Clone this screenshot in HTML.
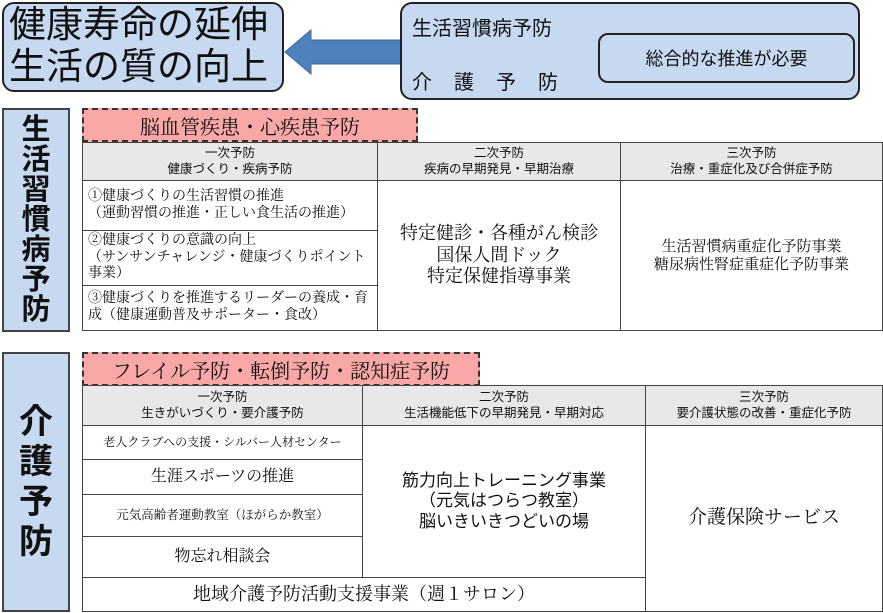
<!DOCTYPE html>
<html><head><meta charset="utf-8"><style>
body{margin:0;width:883px;height:613px;background:#fff;position:relative;overflow:hidden;font-family:"Liberation Sans","Noto Sans CJK JP",sans-serif;color:#111}
div{box-sizing:border-box}
.a{position:absolute}
.c{position:absolute;display:flex;align-items:center;justify-content:center;text-align:center;border:1px solid #444;background:#fff;line-height:1.2}
.s{font-family:"Liberation Serif","Noto Serif CJK JP","Noto Serif CJK SC",serif}
.h{background:#e8e8e8;font-size:12.5px;line-height:1.25}
.l{justify-content:flex-start;text-align:left;padding-left:5px}
.rb{position:absolute;background:#c6d9f1;border:2px solid #222;border-radius:12px}
.side{position:absolute;background:#c6d9f1;border:2px solid #444;display:flex;align-items:center;justify-content:center;font-weight:bold;text-align:center}
.red{position:absolute;background:#f9a7a7;border:2px dashed #333;display:flex;align-items:center;justify-content:center}
</style></head><body>
<div class="rb" style="left:2px;top:2px;width:282px;height:90px;"></div>
<div class="a" style="left:9px;top:4px;font-size:37px;line-height:42px;white-space:nowrap;">健康寿命の延伸<br>生活の質の向上</div>
<svg class="a" style="left:283px;top:28px" width="122" height="48"><polygon points="2,24 28,2 28,12 120,12 120,36 28,36 28,46" fill="#4f81bd" stroke="#3a6aa0" stroke-width="1"/></svg>
<div class="rb" style="left:400px;top:2px;width:460px;height:98px;"></div>
<div class="a" style="left:412px;top:12px;font-size:20px;">生活習慣病予防</div>
<div class="a" style="left:412px;top:66px;font-size:20px;letter-spacing:22px;">介護予防</div>
<div class="a" style="left:598px;top:33px;width:257px;height:50px;border:2px solid #222;border-radius:10px;display:flex;align-items:center;justify-content:center;font-size:18px;">総合的な推進が必要</div>

<div class="side" style="left:2px;top:108px;width:68px;height:224px;font-size:29px;line-height:30px;">生<br>活<br>習<br>慣<br>病<br>予<br>防</div>
<div class="red s" style="left:82px;top:108px;width:336px;height:34px;font-size:20px;">脳血管疾患・心疾患予防</div>
<div class="c h" style="left:82px;top:142px;width:296px;height:39px;">一次予防<br>健康づくり・疾病予防</div>
<div class="c h" style="left:377px;top:142px;width:244px;height:39px;">二次予防<br>疾病の早期発見・早期治療</div>
<div class="c h" style="left:620px;top:142px;width:263px;height:39px;">三次予防<br>治療・重症化及び合併症予防</div>
<div class="c l s" style="left:82px;top:180px;width:296px;height:51px;font-size:14px;">①健康づくりの生活習慣の推進<br>（運動習慣の推進・正しい食生活の推進）</div>
<div class="c l s" style="left:82px;top:230px;width:296px;height:56px;font-size:14px;">②健康づくりの意識の向上<br>（サンサンチャレンジ・健康づくりポイント事業）</div>
<div class="c l s" style="left:82px;top:285px;width:296px;height:46px;font-size:14px;">③健康づくりを推進するリーダーの養成・育成（健康運動普及サポーター・食改）</div>
<div class="c s" style="left:377px;top:180px;width:244px;height:151px;font-size:18px;">特定健診・各種がん検診<br>国保人間ドック<br>特定保健指導事業</div>
<div class="c s" style="left:620px;top:180px;width:263px;height:151px;font-size:15px;">生活習慣病重症化予防事業<br>糖尿病性腎症重症化予防事業</div>

<div class="side" style="left:2px;top:352px;width:68px;height:260px;font-size:34px;line-height:40px;">介<br>護<br>予<br>防</div>
<div class="red s" style="left:82px;top:352px;width:398px;height:34px;font-size:20px;">フレイル予防・転倒予防・認知症予防</div>
<div class="c h" style="left:82px;top:385px;width:281px;height:41px;">一次予防<br>生きがいづくり・要介護予防</div>
<div class="c h" style="left:362px;top:385px;width:284px;height:41px;">二次予防<br>生活機能低下の早期発見・早期対応</div>
<div class="c h" style="left:645px;top:385px;width:238px;height:41px;">三次予防<br>要介護状態の改善・重症化予防</div>
<div class="c s" style="left:82px;top:425px;width:281px;height:35px;font-size:12px;">老人クラブへの支援・シルバー人材センター</div>
<div class="c s" style="left:82px;top:459px;width:281px;height:36px;font-size:16px;">生涯スポーツの推進</div>
<div class="c s" style="left:82px;top:494px;width:281px;height:43px;font-size:12.5px;">元気高齢者運動教室（ほがらか教室）</div>
<div class="c s" style="left:82px;top:536px;width:281px;height:42px;font-size:16px;">物忘れ相談会</div>
<div class="c" style="left:362px;top:425px;width:284px;height:153px;font-size:17px;">筋力向上トレーニング事業<br>（元気はつらつ教室）<br>脳いきいきつどいの場</div>
<div class="c s" style="left:645px;top:425px;width:238px;height:187px;font-size:19px;">介護保険サービス</div>
<div class="c s" style="left:82px;top:577px;width:564px;height:35px;font-size:18px;">地域介護予防活動支援事業（週１サロン）</div>
</body></html>
